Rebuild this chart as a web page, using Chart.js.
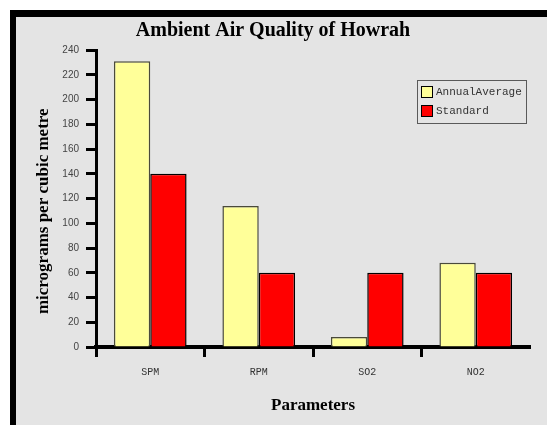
<!DOCTYPE html>
<html>
<head>
<meta charset="utf-8">
<title>Ambient Air Quality of Howrah</title>
<script src="https://cdn.jsdelivr.net/npm/chart.js@4.4.1/dist/chart.umd.min.js"></script>
<style>
  body { margin: 0; background: #ffffff; }
  #frame {
    position: absolute; left: 10px; top: 10px;
    border-left: 6px solid #000; border-top: 7px solid #000;
    background: #e4e4e4; width: 531px; height: 408px;
  }
  #myChart { display: block; }
</style>
</head>
<body>
<div id="frame"><canvas id="myChart" width="531" height="408"></canvas></div>
<script>
// chart data
const categories = ['SPM', 'RPM', 'SO2', 'NO2'];
const annualAverage = [231, 114, 8, 68];
const standard = [140, 60, 60, 60];
const seriesNames = ['AnnualAverage', 'Standard'];
const yTicks = { min: 0, max: 240, step: 20 };

// legend box drawn inside the plot, like the original
const boxLegend = {
    id: 'boxLegend',
    afterDraw(chart) {
        const ctx = chart.ctx;
        const x = 401, y = 63, w = 109, h = 43;
        ctx.save();
        ctx.strokeStyle = '#5a5a5a';
        ctx.lineWidth = 1;
        ctx.strokeRect(x + 0.5, y + 0.5, w, h);
        ctx.font = '11px "Liberation Mono", monospace';
        ctx.textBaseline = 'middle';
        chart.data.datasets.forEach((ds, i) => {
            const sy = y + 6 + i * 19;
            ctx.fillStyle = ds.backgroundColor;
            ctx.fillRect(x + 4, sy, 11, 11);
            ctx.strokeStyle = '#000';
            ctx.strokeRect(x + 4.5, sy + 0.5, 11, 11);
            ctx.fillStyle = '#333';
            ctx.fillText(ds.label, x + 19, sy + 6);
        });
        ctx.restore();
    }
};

let ctx = document.getElementById('myChart').getContext('2d');
let myChart = new Chart(ctx, {
    type: 'bar',
    data: {
        labels: categories,
        datasets: [{
            label: seriesNames[0],
            data: annualAverage,
            backgroundColor: '#ffff99',
            borderColor: '#4a4a3a',
            borderWidth: 1.5
        }, {
            label: seriesNames[1],
            data: standard,
            backgroundColor: '#ff0000',
            borderColor: '#000000',
            borderWidth: 1.5
        }]
    },
    options: {
        responsive: false,
        animation: false,
        devicePixelRatio: 1,
        categoryPercentage: 0.67,
        barPercentage: 1,
        layout: { padding: { left: 0, right: 17, top: 0, bottom: 0 } },
        plugins: {
            legend: { display: false },
            tooltip: { enabled: false },
            title: {
                display: true,
                text: 'Ambient Air Quality of Howrah',
                color: '#000',
                font: { family: '"Liberation Serif", serif', size: 20, weight: 'bold' },
                padding: { top: 2, bottom: 7 }
            }
        },
        scales: {
            x: {
                afterFit(scale) { scale.height = 78; },
                border: { display: true, color: '#000', width: 4 },
                grid: {
                    drawOnChartArea: false,
                    drawTicks: true,
                    tickLength: 10,
                    tickWidth: 3,
                    // no tick at the far right end of the axis
                    tickColor: c => c.type === 'tick' ? '#000' : 'rgba(0,0,0,0)'
                },
                ticks: {
                    color: '#333',
                    padding: 9,
                    font: { family: '"Liberation Mono", monospace', size: 10 }
                },
                title: {
                    display: true,
                    text: 'Parameters',
                    color: '#000',
                    font: { family: '"Liberation Serif", serif', size: 17, weight: 'bold' },
                    padding: { top: 0, bottom: 9 }
                }
            },
            y: {
                min: yTicks.min,
                max: yTicks.max,
                afterFit(scale) { scale.width = 80; },
                border: { display: true, color: '#000', width: 3 },
                grid: {
                    drawOnChartArea: false,
                    drawTicks: true,
                    tickLength: 10,
                    tickWidth: 3,
                    tickColor: '#000'
                },
                ticks: {
                    stepSize: yTicks.step,
                    color: '#444',
                    padding: 7,
                    font: { family: '"Liberation Sans", sans-serif', size: 10 }
                },
                title: {
                    display: true,
                    // trailing spaces push the title a little lower, as in the original
                    text: 'micrograms per cubic metre      ',
                    color: '#000',
                    font: { family: '"Liberation Serif", serif', size: 17, weight: 'bold' },
                    padding: { top: 17, bottom: 0 }
                }
            }
        }
    },
    plugins: [boxLegend]
});
</script>
</body>
</html>
